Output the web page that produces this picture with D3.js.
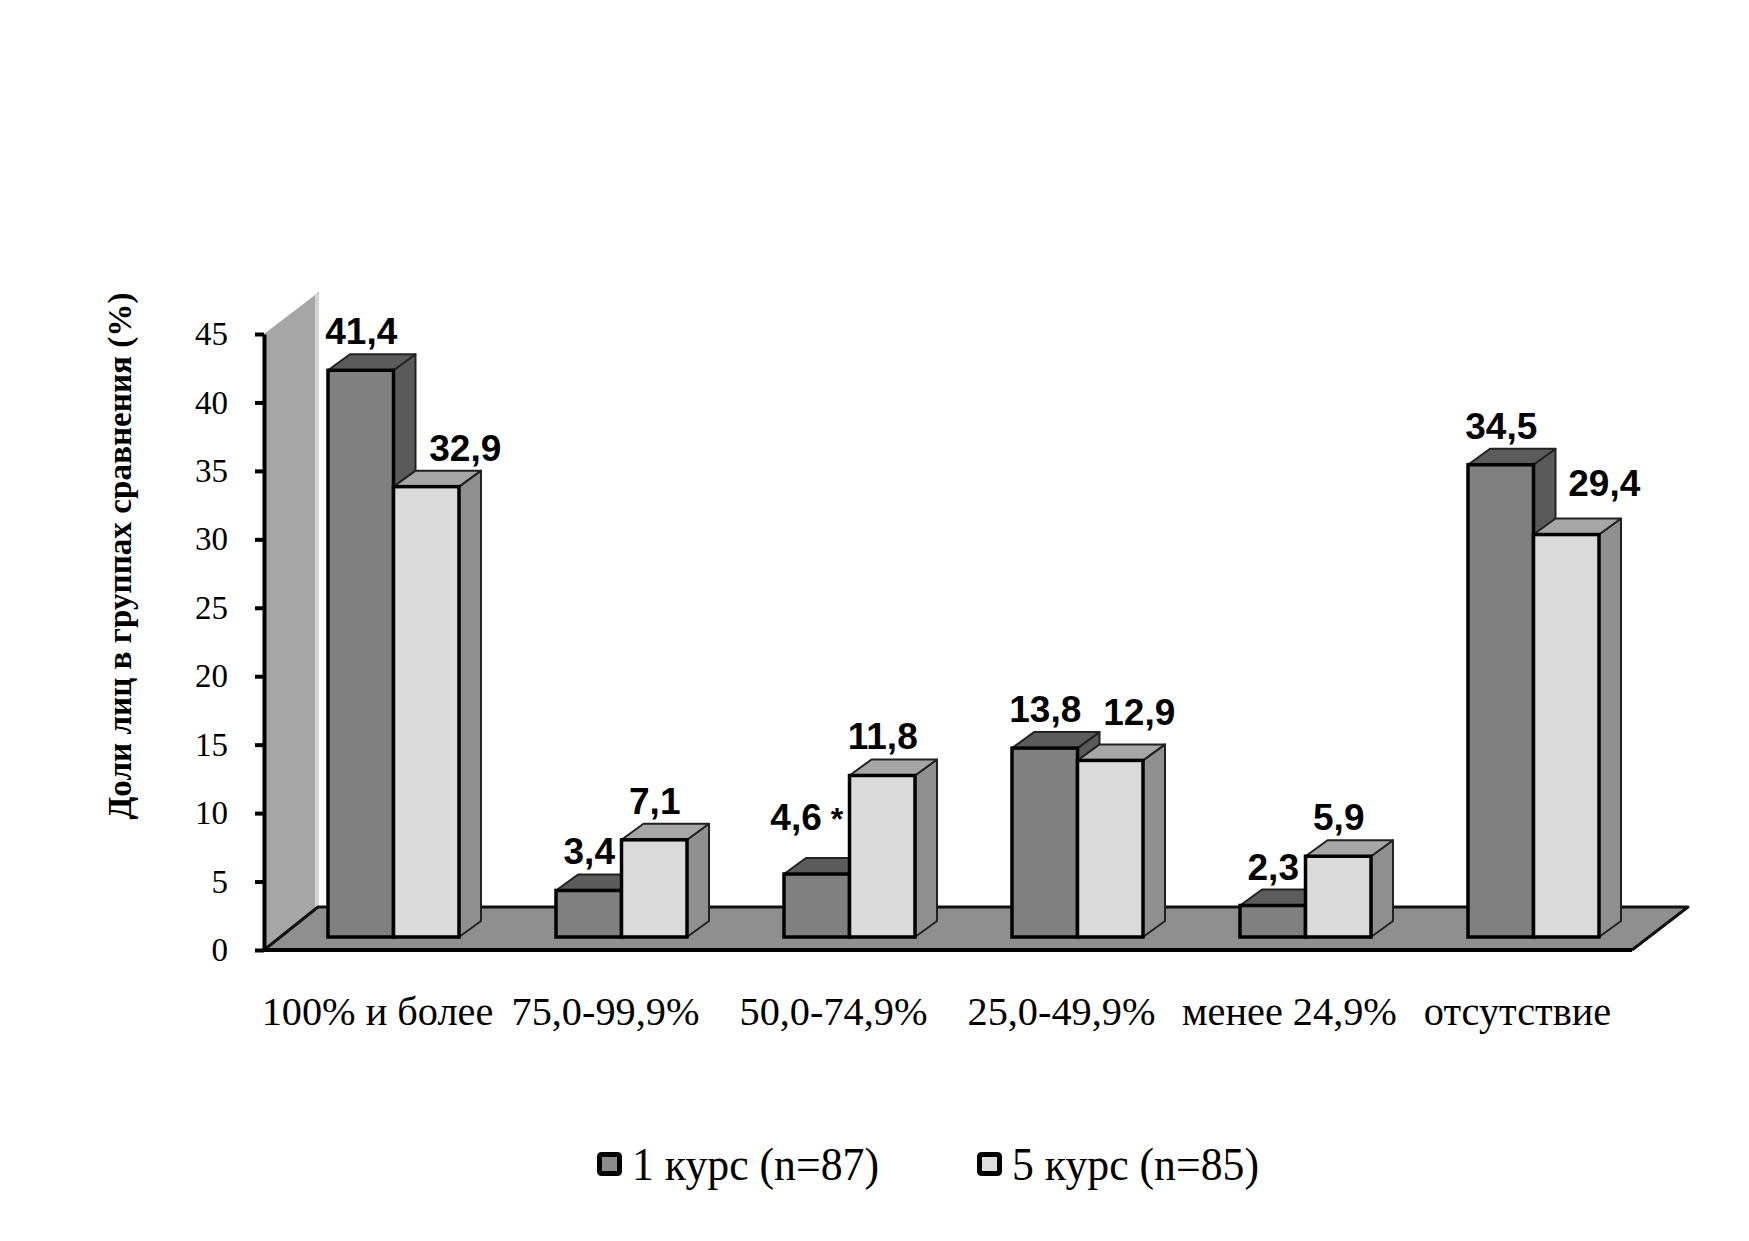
<!DOCTYPE html>
<html>
<head>
<meta charset="utf-8">
<title>Доли лиц в группах сравнения</title>
<script src="https://cdn.jsdelivr.net/npm/d3@7/dist/d3.min.js"></script>
<style>
  * { margin: 0; padding: 0; }
  body { background: #fff; }
  svg { display: block; }
  text { fill: #000; }
  .serif { font-family: "Liberation Serif", serif; }
  .val { font-family: "Liberation Sans", Arial, sans-serif; font-weight: bold; font-size: 37px; text-anchor: middle; }
</style>
</head>
<body>
<div id="show"></div>
<script>
var categories = ['100% и более', '75,0-99,9%', '50,0-74,9%', '25,0-49,9%', 'менее 24,9%', 'отсутствие'];
var course1 = [41.4, 3.4, 4.6, 13.8, 2.3, 34.5];
var course5 = [32.9, 7.1, 11.8, 12.9, 5.9, 29.4];
var seriesNames = ['1 курс (n=87)', '5 курс (n=85)'];
var yTicks = [0, 5, 10, 15, 20, 25, 30, 35, 40, 45];
var marked = ['50,0-74,9%'];   // звездочка у значения 1 курса

var width = 1749, height = 1241;
var axisX = 264, floorDx = 54, floorDy = 43;   // глубина "пола"
var barDx = 22, barDy = -16, barShift = 13;    // глубина столбика, сдвиг от оси
var floorEnd = 1632;

// сдвиги подписей 5 курса, которые стоят правее столбика: [dx, dy]
var labelNudge = { '32.9': [39, -26], '12.9': [29, -35], '29.4': [38, -39] };

var svg = d3.select('#show').append('svg').attr('width', width).attr('height', height);

var y = d3.scaleLinear().domain([0, 45]).range([950, 334]);
var x = d3.scaleBand().domain(categories).range([328, 1599]).paddingInner(97 / 228);
var xs = d3.scaleBand().domain([0, 1]).range([0, x.bandwidth()]);

function pts(a) { return a.map(function(p) { return p.join(','); }).join(' '); }

// стенка
var wall = svg.append('g');
wall.append('polygon')
  .attr('points', pts([[axisX, y(45)], [axisX + floorDx + 1, y(45) - 42], [axisX + floorDx + 1, y(0) - floorDy], [axisX, y(0)]]))
  .attr('fill', '#a6a6a6');
wall.append('rect')
  .attr('x', axisX + floorDx - 3).attr('y', y(45) - 40)
  .attr('width', 4).attr('height', y(0) - floorDy - y(45) + 40)
  .attr('fill', '#d4d4d4');

// пол
svg.append('polygon')
  .attr('points', pts([[axisX, y(0)], [axisX + floorDx, y(0) - floorDy], [floorEnd + floorDx + 2, y(0) - floorDy], [floorEnd, y(0)]]))
  .attr('fill', '#8f8f8f');
svg.append('path')
  .attr('d', 'M' + axisX + ',' + y(0) + 'L' + (axisX + floorDx) + ',' + (y(0) - floorDy) + 'H' + (floorEnd + floorDx + 2) + 'L' + floorEnd + ',' + y(0))
  .attr('fill', 'none').attr('stroke', '#111').attr('stroke-width', 3).attr('stroke-linejoin', 'round');
svg.append('line')
  .attr('x1', axisX).attr('x2', floorEnd).attr('y1', y(0)).attr('y2', y(0))
  .attr('stroke', '#000').attr('stroke-width', 4);

// столбики
var colors = [
  { front: '#808080', top: '#5c5c5c', side: '#5a5a5a' },
  { front: '#dadada', top: '#a6a6a6', side: '#8f8f8f' }
];
var rows = [];
categories.forEach(function(c, i) {
  rows.push({ cat: c, s: 0, v: course1[i], other: course5[i] });
  rows.push({ cat: c, s: 1, v: course5[i], other: course1[i] });
});

var bars = svg.append('g').selectAll('g').data(rows).enter().append('g')
  .each(function(d) {
    var g = d3.select(this);
    var x0 = x(d.cat) + xs(d.s), x1 = x0 + xs.bandwidth();
    var top = y(d.v) - barShift, base = y(0) - barShift;
    var col = colors[d.s];
    g.append('polygon')
      .attr('points', pts([[x1, top], [x1 + barDx, top + barDy], [x1 + barDx, base + barDy], [x1, base]]))
      .attr('fill', col.side).attr('stroke', '#222').attr('stroke-width', 2).attr('stroke-linejoin', 'round');
    g.append('polygon')
      .attr('points', pts([[x0, top], [x0 + barDx, top + barDy], [x1 + barDx, top + barDy], [x1, top]]))
      .attr('fill', col.top).attr('stroke', '#222').attr('stroke-width', 2).attr('stroke-linejoin', 'round');
    g.append('rect')
      .attr('x', x0).attr('y', top).attr('width', x1 - x0).attr('height', base - top)
      .attr('fill', col.front).attr('stroke', '#000').attr('stroke-width', 3.5);
  });

// подписи значений
svg.append('g').selectAll('text').data(rows).enter().append('text')
  .attr('class', 'val')
  .attr('x', function(d) {
    var cx = x(d.cat) + xs(d.s) + xs.bandwidth() / 2;
    if (d.s === 1 && labelNudge[d.v]) return cx + labelNudge[d.v][0];
    if (d.s === 0 && marked.indexOf(d.cat) >= 0) return cx - 10;
    return cx + 0.5;
  })
  .attr('y', function(d) {
    var top = y(d.v) - barShift;
    if (d.s === 1 && labelNudge[d.v]) return top + labelNudge[d.v][1];
    if (d.s === 0 && marked.indexOf(d.cat) >= 0) return top - 44;
    return top - 26;
  })
  .each(function(d) {
    var t = String(d.v).replace('.', ',');
    var el = d3.select(this).text(t);
    if (d.s === 0 && marked.indexOf(d.cat) >= 0) {
      el.append('tspan').style('font-size', '32px').text(' *');
    }
  });

// ось Y
var yAxis = svg.append('g').attr('transform', 'translate(' + axisX + ',0)')
  .call(d3.axisLeft(y).tickValues(yTicks).tickSize(9).tickPadding(27).tickSizeOuter(0));
yAxis.selectAll('path').attr('stroke', '#000').attr('stroke-width', 4);
yAxis.selectAll('line').attr('stroke', '#000').attr('stroke-width', 4);
yAxis.attr('font-family', null).attr('font-size', null);
yAxis.selectAll('text').attr('class', 'serif').style('font-size', '33px');

svg.append('text').attr('class', 'serif')
  .attr('transform', 'translate(131,556) rotate(-90)')
  .attr('text-anchor', 'middle')
  .style('font-size', '33.2px').style('font-weight', 'bold')
  .text('Доли лиц в группах сравнения (%)');

// подписи категорий
svg.append('g').selectAll('text').data(categories).enter().append('text')
  .attr('class', 'serif')
  .attr('x', function(d) { return x(d) + x.bandwidth() / 2 - 16; })
  .attr('y', 1025)
  .attr('text-anchor', 'middle')
  .style('font-size', '40.3px')
  .text(function(d) { return d; });

// легенда
var legendX = d3.scaleOrdinal().domain([0, 1]).range([597, 977]);
var legend = svg.append('g').selectAll('g').data(seriesNames).enter().append('g')
  .attr('transform', function(d, i) { return 'translate(' + legendX(i) + ',1152)'; });
legend.append('rect')
  .attr('x', 2.5).attr('y', 2.5).attr('width', 20).attr('height', 19).attr('rx', 2)
  .attr('fill', function(d, i) { return i === 0 ? '#8c8c8c' : '#dedede'; })
  .attr('stroke', '#000').attr('stroke-width', 5);
legend.append('text').attr('class', 'serif')
  .attr('x', 35).attr('y', 28)
  .attr('textLength', 247).attr('lengthAdjust', 'spacingAndGlyphs')
  .style('font-size', '46px')
  .text(function(d) { return d; });
</script>
</body>
</html>
